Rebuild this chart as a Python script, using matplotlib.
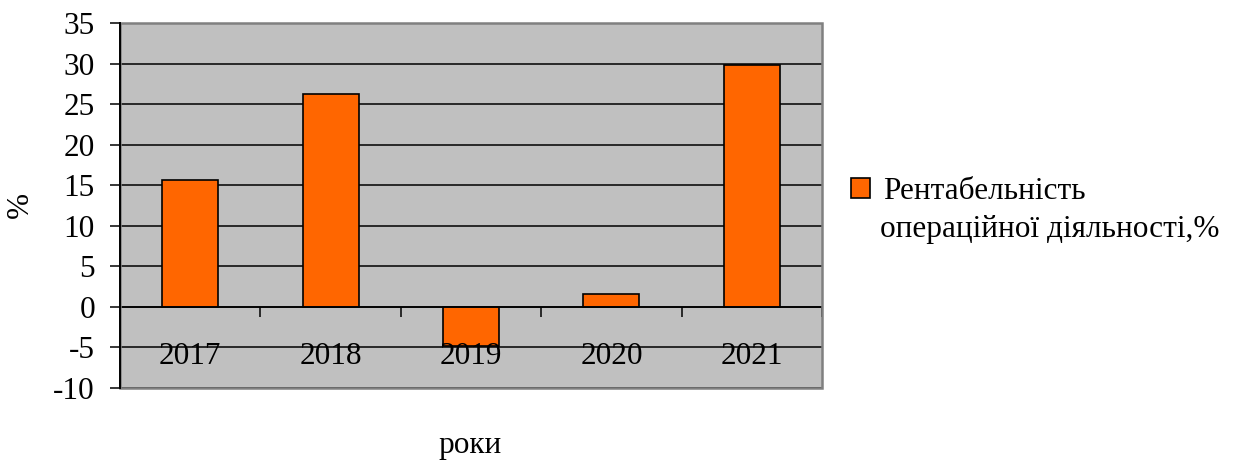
import matplotlib
matplotlib.use("Agg")
from matplotlib import pyplot
from matplotlib.patches import Rectangle
import matplotlib.transforms as mtransforms

years = ["2017", "2018", "2019", "2020", "2021"]
values = [15.7, 26.3, -4.8, 1.6, 29.8]
series_name = ["Рентабельність", "операційної діяльності,%"]

FONT = {'family': 'Liberation Serif', 'size': 22.5}
matplotlib.rc('font', **FONT)
matplotlib.rcParams['axes.unicode_minus'] = False

fig = pyplot.figure(figsize=(12.35, 4.62), dpi=100)
ax = fig.add_axes([120/1235, 74/462, 702/1235, 365/462])
ax.set_facecolor('#c0c0c0')

x = list(range(len(years)))
ax.bar(x, values, width=0.4, color='#ff6600', edgecolor='black', linewidth=1.2,
       label=series_name[0], zorder=3)

ax.set_xlim(-0.5, len(years) - 0.5)
ax.set_ylim(-10, 35)
ax.set_yticks(range(-10, 40, 5))
ax.yaxis.grid(True, color='black', linewidth=1.1, zorder=1)
ax.set_axisbelow(True)

# category axis sits on zero, tick marks between categories
ax.spines['bottom'].set_position(('data', 0))
ax.spines['bottom'].set_color('black')
ax.spines['bottom'].set_linewidth(1.2)
ax.spines['bottom'].set_zorder(4)
ax.set_xticks([i - 0.5 for i in range(len(years) + 1)])
ax.set_xticklabels([])
ax.tick_params(axis='x', direction='out', length=7, width=1.1, color='black')

trans = mtransforms.blended_transform_factory(ax.transData, ax.transData)
for i, yr in enumerate(years):
    ax.text(i, -6.1, yr, ha='center', va='center', transform=trans, zorder=5)

for s in ['top', 'right']:
    ax.spines[s].set_visible(False)
ax.spines['left'].set_color('black')
ax.spines['left'].set_linewidth(1.4)
ax.spines['left'].set_zorder(6)
ax.tick_params(axis='y', direction='out', length=7, width=1.1, pad=11)

ax.add_patch(Rectangle((0, 0), 1, 1, transform=ax.transAxes, fill=False,
                       edgecolor='#808080', linewidth=1.8, zorder=5, clip_on=False))

fig.text(20/1235, 1 - 205/462, '%', rotation=90, ha='center', va='center')
fig.text(470/1235, 1 - 446/462, 'роки', ha='center', va='center')

leg = ax.legend(loc='upper left', bbox_to_anchor=(851/1235, 1 - 177/462),
                bbox_transform=fig.transFigure, frameon=False,
                handlelength=0.6, handleheight=0.6, handletextpad=0.42,
                borderaxespad=0, borderpad=0)
fig.text(880/1235, 1 - 237/462, series_name[1], ha='left', va='baseline')

fig.savefig('out.png', dpi=100)
